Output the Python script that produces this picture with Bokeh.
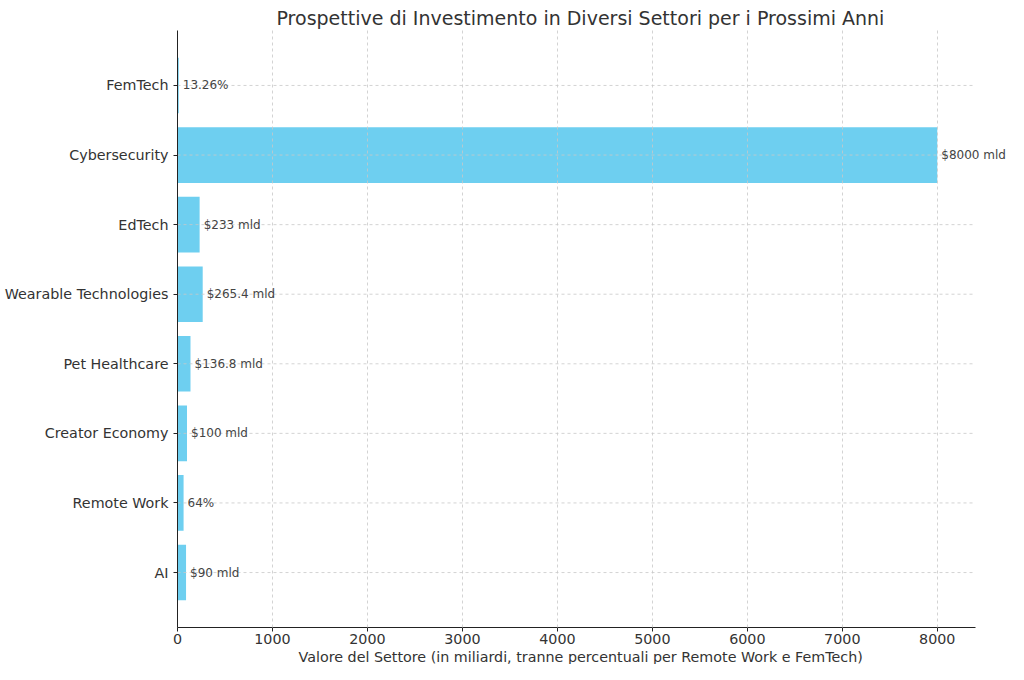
from bokeh.plotting import figure
from bokeh.models import ColumnDataSource, Range1d, FixedTicker, Label, Title
from bokeh.embed import file_html
from bokeh.resources import INLINE

sectors = ["AI", "Remote Work", "Creator Economy", "Pet Healthcare",
           "Wearable Technologies", "EdTech", "Cybersecurity", "FemTech"]
values = [90, 64, 100, 136.8, 265.4, 233, 8000, 13.26]
labels = ["$90 mld", "64%", "$100 mld", "$136.8 mld",
          "$265.4 mld", "$233 mld", "$8000 mld", "13.26%"]
x_ticks = [0, 1000, 2000, 3000, 4000, 5000, 6000, 7000, 8000]

FONT = "DejaVu Sans"
AXIS_END = 8400   # where the drawn axis stops
pos = list(range(len(sectors)))

src = ColumnDataSource(dict(y=pos, v=values))
grid_src = ColumnDataSource(dict(y=pos, x0=[0] * len(pos), x1=[AXIS_END] * len(pos)))

# frame runs to the right edge so the longest value label is not clipped
p = figure(width=1008, height=664, output_backend="svg", toolbar_location=None,
           x_range=Range1d(0, 8750), y_range=Range1d(-0.79, 7.79),
           min_border_left=177, min_border_right=0, min_border_top=30, min_border_bottom=36)

p.hbar(y="y", right="v", left=0, height=0.8, source=src, color="#6ecff0", line_color=None)
p.segment(x0="x0", x1="x1", y0="y", y1="y", source=grid_src,
          line_color="#c8c8c8", line_dash="3 3", line_width=0.8)

for yy, vv, tt in zip(pos, values, labels):
    p.add_layout(Label(x=vv, y=yy, text=tt, x_offset=4, text_baseline="middle",
                       text_font=FONT, text_font_size="12px", text_color="#444444"))

# left aligned + offset so they sit centred over the drawn axis, not the wider frame
p.add_layout(Title(text="Prospettive di Investimento in Diversi Settori per i Prossimi Anni",
                   align="left", offset=99, text_font=FONT, text_font_size="19px",
                   text_font_style="normal", text_color="#333333", standoff=4), "above")
p.add_layout(Title(text="Valore del Settore (in miliardi, tranne percentuali per Remote Work e FemTech)",
                   align="left", offset=121, text_font=FONT, text_font_size="14.3px",
                   text_font_style="normal", text_color="#333333", standoff=0), "below")

p.outline_line_color = None
p.xaxis.ticker = FixedTicker(ticks=x_ticks)
p.xaxis.bounds = (0, AXIS_END)
p.yaxis.ticker = FixedTicker(ticks=pos)
p.yaxis.major_label_overrides = {i: s for i, s in enumerate(sectors)}

for ax in (p.xaxis, p.yaxis):
    ax.axis_line_color = "#222222"
    ax.major_tick_line_color = "#222222"
    ax.major_tick_out = 4
    ax.major_tick_in = 0
    ax.minor_tick_line_color = None
    ax.major_label_text_font = FONT
    ax.major_label_text_font_size = "14.3px"
    ax.major_label_text_color = "#333333"
p.xaxis.major_label_standoff = 2

p.ygrid.grid_line_color = None
p.xgrid.grid_line_color = "#c8c8c8"
p.xgrid.grid_line_dash = "3 3"
p.xgrid.grid_line_width = 0.8
p.xgrid.level = "annotation"

open("out.html", "w").write(file_html(p, INLINE))
